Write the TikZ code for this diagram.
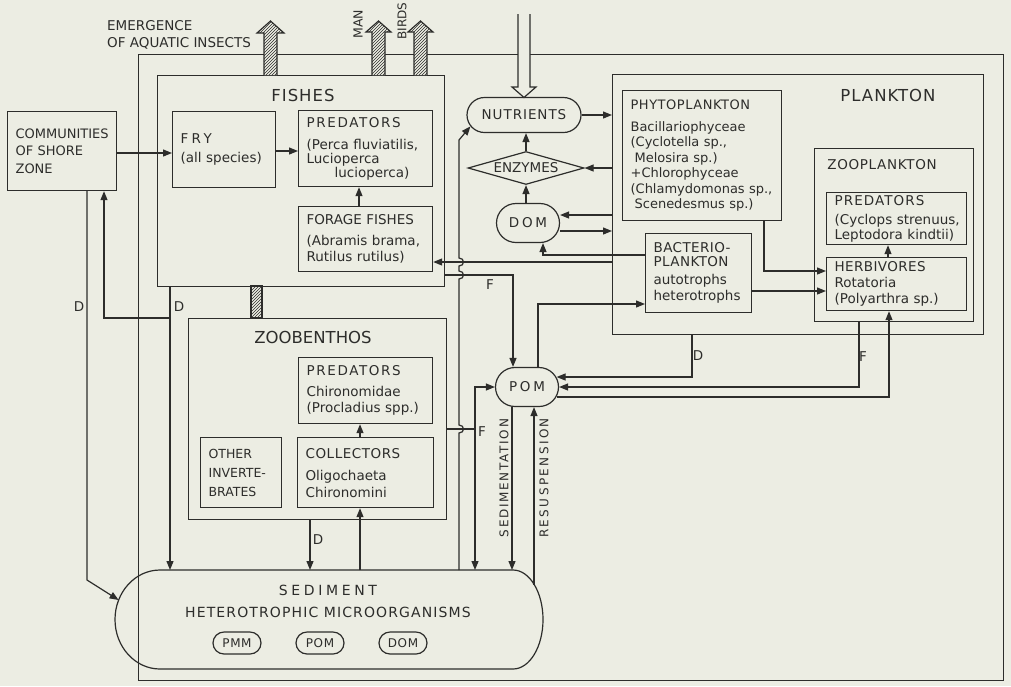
\documentclass[tikz,border=0pt]{standalone}
\usepackage{fontspec}
\setmainfont{DejaVu Sans}
\usetikzlibrary{arrows.meta,shapes.misc,shapes.geometric,patterns,calc}
\definecolor{bg}{RGB}{236,237,227}
\definecolor{ink}{RGB}{45,45,43}
\newcommand{\ls}[1]{\addfontfeature{LetterSpace=#1}}
\newcommand{\bodyf}{\fontsize{13.5}{15.5}\selectfont}
\begin{document}
\begin{tikzpicture}[x=1pt,y=-1pt,
  ln/.style={draw=ink, line width=1.2pt},
  arr/.style={ln, -{Triangle[length=9pt,width=7pt]}},
  box/.style={ln, rectangle, anchor=north west, inner xsep=8pt, inner ysep=0pt, align=left, text=ink, font=\bodyf},
  cont/.style={ln, rectangle, anchor=north west, inner sep=0pt},
  stad/.style={ln, rounded rectangle, inner sep=0pt, text=ink, font=\bodyf},
  lab/.style={text=ink, inner sep=0pt, font=\bodyf},
  big/.style={text=ink, inner sep=0pt, font=\fontsize{16.5}{18}\selectfont\ls{6}},
  hatch/.style={ln, preaction={fill=bg}, pattern=north east lines, pattern color=ink},
]
\useasboundingbox (0,0) rectangle (1011,686);
\fill[bg] (0,0) rectangle (1011,686);

% outer frame and containers
\node[cont, minimum width=865pt, minimum height=626pt] (outer) at (138,54) {};
\node[cont, minimum width=287pt, minimum height=211pt] (fishes) at (157,75) {};
\node[cont, minimum width=258pt, minimum height=201pt] (zoob) at (188,318) {};
\node[cont, minimum width=371pt, minimum height=260pt] (plank) at (612,74) {};
\node[cont, minimum width=159pt, minimum height=173pt] (zoopl) at (814,148) {};

% boxes
\node[box, minimum width=109pt, minimum height=79pt, text width=93pt, font=\fontsize{13}{17.5}\selectfont] (shore) at (7,111) {COMMUNITIES\\OF~SHORE\\ZONE};
\node[box, minimum width=103pt, minimum height=76pt, text width=87pt] (fry) at (172,111) {{\ls{25}FRY}\\[3.5pt](all~species)};
\node[box, minimum width=134pt, minimum height=76pt, text width=118pt, font=\fontsize{13.5}{14}\selectfont] (fishpred) at (298,110) {{\ls{12}PREDATORS}\\[8pt](Perca~fluviatilis,\\Lucioperca\\\hspace*{28pt}lucioperca)};
\node[box, minimum width=134pt, minimum height=65pt, text width=118pt] (forage) at (298,206) {FORAGE~FISHES\\[5.5pt](Abramis~brama,\\Rutilus~rutilus)};
\node[box, minimum width=134pt, minimum height=66pt, text width=118pt, font=\fontsize{13.5}{16.5}\selectfont] (zpred) at (298,357) {{\ls{12}PREDATORS}\\[4.5pt]Chironomidae\\(Procladius~spp.)};
\node[box, minimum width=136pt, minimum height=70pt, text width=120pt, font=\fontsize{13.5}{17}\selectfont] (colls) at (297,437) {{\ls{4}COLLECTORS}\\[5pt]Oligochaeta\\Chironomini};
\node[box, minimum width=81pt, minimum height=70pt, text width=65pt, font=\fontsize{12.5}{19}\selectfont] (other) at (200,437) {OTHER\\INVERTE-\\BRATES};
\node[box, minimum width=159pt, minimum height=130pt, text width=143pt, font=\fontsize{13}{15.5}\selectfont] (phyto) at (622,90) {{\ls{4}PHYTOPLANKTON}\\[6pt]Bacillariophyceae\\(Cyclotella~sp.,\\\hspace*{4pt}Melosira~sp.)\\+Chlorophyceae\\(Chlamydomonas~sp.,\\\hspace*{4pt}Scenedesmus~sp.)};
\node[box, minimum width=106pt, minimum height=79pt, text width=90pt, font=\fontsize{13.5}{14}\selectfont] (bact) at (645,233) {{\ls{3}BACTERIO-}\\{\ls{3}PLANKTON}\\[4pt]autotrophs\\[2pt]heterotrophs};
\node[box, minimum width=140pt, minimum height=52pt, text width=124pt, font=\fontsize{13.5}{15}\selectfont] (zoopred) at (826,192) {{\ls{8}PREDATORS}\\[4pt](Cyclops~strenuus,\\Leptodora~kindtii)};
\node[box, minimum width=140pt, minimum height=53pt, text width=124pt, font=\fontsize{13.5}{16}\selectfont] (herb) at (826,257) {{\ls{3}HERBIVORES}\\Rotatoria\\(Polyarthra~sp.)};

% round nodes
\node[stad, minimum width=114pt, minimum height=35pt, font=\bodyf\ls{7}] (nutr) at (524,115) {NUTRIENTS};
\node[ln, diamond, aspect=3.5, minimum width=116pt, minimum height=33pt, inner sep=0pt, text=ink, font=\bodyf] (enz) at (526,168) {ENZYMES};
\node[stad, minimum width=63pt, minimum height=39pt, font=\bodyf\ls{20}] (dom) at (528,223) {DOM};
\node[stad, minimum width=63pt, minimum height=39pt, font=\bodyf\ls{20}] (pom) at (527,387) {POM};

% sediment
\draw[ln] (160,570) -- (513,570) .. controls (529.6,570) and (543,592.2) .. (543,619.5)
  .. controls (543,646.8) and (529.6,669) .. (513,669) -- (160,669)
  .. controls (135.1,669) and (115,646.8) .. (115,619.5)
  .. controls (115,592.2) and (135.1,570) .. (160,570) -- cycle;
\coordinate (sedN) at (330,570);
\coordinate (sedL) at (118.6,600);
\coordinate (resus) at (534,585);
\node[lab, align=center, font=\fontsize{14}{22}\selectfont] (sedtxt) at (328,601) {{\ls{26}SEDIMENT}\\{\ls{8}HETEROTROPHIC MICROORGANISMS}};
\node[stad, minimum width=48pt, minimum height=22pt, font=\fontsize{12}{14}\selectfont\ls{5}] (pmm) at (237,643) {PMM};
\node[stad, minimum width=48pt, minimum height=22pt, font=\fontsize{12}{14}\selectfont\ls{5}] (spom) at (320,643) {POM};
\node[stad, minimum width=48pt, minimum height=22pt, font=\fontsize{12}{14}\selectfont\ls{5}] (sdom) at (403,643) {DOM};

% coordinates near POM right side
\coordinate (pomR1) at ($(pom.east)+(-2.5,-10)$);
\coordinate (pomR3) at ($(pom.east)+(-2.5,10)$);

% connectors
\draw[arr] (shore.east |- 0,153) -- (fry.west |- 0,153);
\draw[arr] (fry.east |- 0,151) -- (fishpred.west |- 0,151);
\draw[arr] (forage.north -| 359,0) -- (fishpred.south -| 359,0);
\draw[arr] (shore.south -| 87,0) -- (87,580) -- (sedL);
\draw[arr] (fishes.south -| 170,0) -- (170,0 |- sedN);
\draw[arr] (170,318) -- (104,318) -- (shore.south -| 104,0);
\draw[arr] (colls.north -| 360,0) -- (zpred.south -| 360,0);
\draw[arr] (zoob.south -| 310,0) -- (310,0 |- sedN);
\draw[arr] (360,0 |- sedN) -- (colls.south -| 360,0);
\draw[arr] (459,0 |- sedN) -- (459,433) .. controls (465,433) and (465,425) .. (459,425)
  -- (459,279) .. controls (465,279) and (465,271) .. (459,271)
  -- (459,266) .. controls (465,266) and (465,258) .. (459,258)
  -- (459,140) -- (nutr.192);
\draw[arr] (fishes.east |- 0,275) -- (513,275) -- (pom.north -| 513,0);
\draw[arr] (zoob.east |- 0,429) -| (475,0 |- sedN);
\draw[arr] (475,429) |- (pom.west);
\draw[arr] (nutr.east) -- (plank.west |- nutr.east);
\draw[arr] (plank.west |- enz.east) -- (enz.east);
\draw[arr] (enz.north) -- (enz.north |- nutr.south);
\draw[arr] (enz.south |- dom.north) -- (enz.south);
\draw[arr] (plank.west |- 0,215) -- (dom.east |- 0,215);
\draw[arr] (dom.east |- 0,231) -- (plank.west |- 0,231);
\draw[arr] (bact.west |- 0,255) -| (dom.south -| 543,0);
\draw[arr] (plank.west |- 0,262) -- (forage.east |- 0,262);
\draw[arr] (pom.north -| 538,0) |- (bact.west |- 0,304);
\draw[arr] (phyto.south -| 764,0) |- (herb.west |- 0,271);
\draw[arr] (bact.east |- 0,291) -- (herb.west |- 0,291);
\draw[arr] (herb.north -| 888,0) -- (zoopred.south -| 888,0);
\draw[arr] (plank.south -| 692,0) |- (pomR1);
\draw[arr] (zoopl.south -| 859,0) |- (pom.east);
\draw[arr] (pomR3) -| (herb.south -| 889,0);
\draw[arr] (pom.south -| 512,0) -- (512,0 |- sedN);
\draw[arr] (resus) -- (pom.south -| resus);

% hatched arrows and bar
\draw[hatch] (264,75) -- (264,33) -- (257,33) -- (270.5,21) -- (284,33) -- (277,33) -- (277,75);
\draw[hatch] (372,75) -- (372,32) -- (366,32) -- (378.5,21) -- (391,32) -- (385,32) -- (385,75);
\draw[hatch] (414,75) -- (414,32) -- (408,32) -- (420.5,21) -- (433,32) -- (427,32) -- (427,75);
\draw[hatch] (251,286) rectangle (262,318);

% nutrient input
\draw[ln, fill=bg] (518,14) -- (518,87) -- (512,87) -- (524,97.5) -- (536,87) -- (530,87) -- (530,14);

% titles and labels
\node[big] (fishesT) at (303,95) {FISHES};
\node[big, font=\fontsize{16.5}{18}\selectfont] (zoobT) at (313,337) {ZOOBENTHOS};
\node[big] (plankT) at (888,95) {PLANKTON};
\node[lab, font=\bodyf\ls{5}] (zooplT) at (882,165) {ZOOPLANKTON};
\node[lab, anchor=west, align=left, font=\fontsize{13.5}{17}\selectfont] (emerg) at (107,34.5) {EMERGENCE\\OF AQUATIC INSECTS};
\node[lab, rotate=90, font=\fontsize{12.5}{14}\selectfont] (manT) at (358,24) {MAN};
\node[lab, rotate=90, font=\fontsize{12}{14}\selectfont] (birdsT) at (402,21) {BIRDS};
\node[lab] (d1) at (79,307) {D};
\node[lab] (d2) at (179,307) {D};
\node[lab] (d3) at (318,540) {D};
\node[lab] (d4) at (698,356) {D};
\node[lab] (f1) at (490,285) {F};
\node[lab] (f2) at (482,432) {F};
\node[lab] (f3) at (863,357) {F};
\node[lab, rotate=90, font=\fontsize{12}{14}\selectfont\ls{14}] (sedimT) at (504,478) {SEDIMENTATION};
\node[lab, rotate=90, font=\fontsize{12}{14}\selectfont\ls{20}] (resusT) at (544,478) {RESUSPENSION};
\end{tikzpicture}
\end{document}
